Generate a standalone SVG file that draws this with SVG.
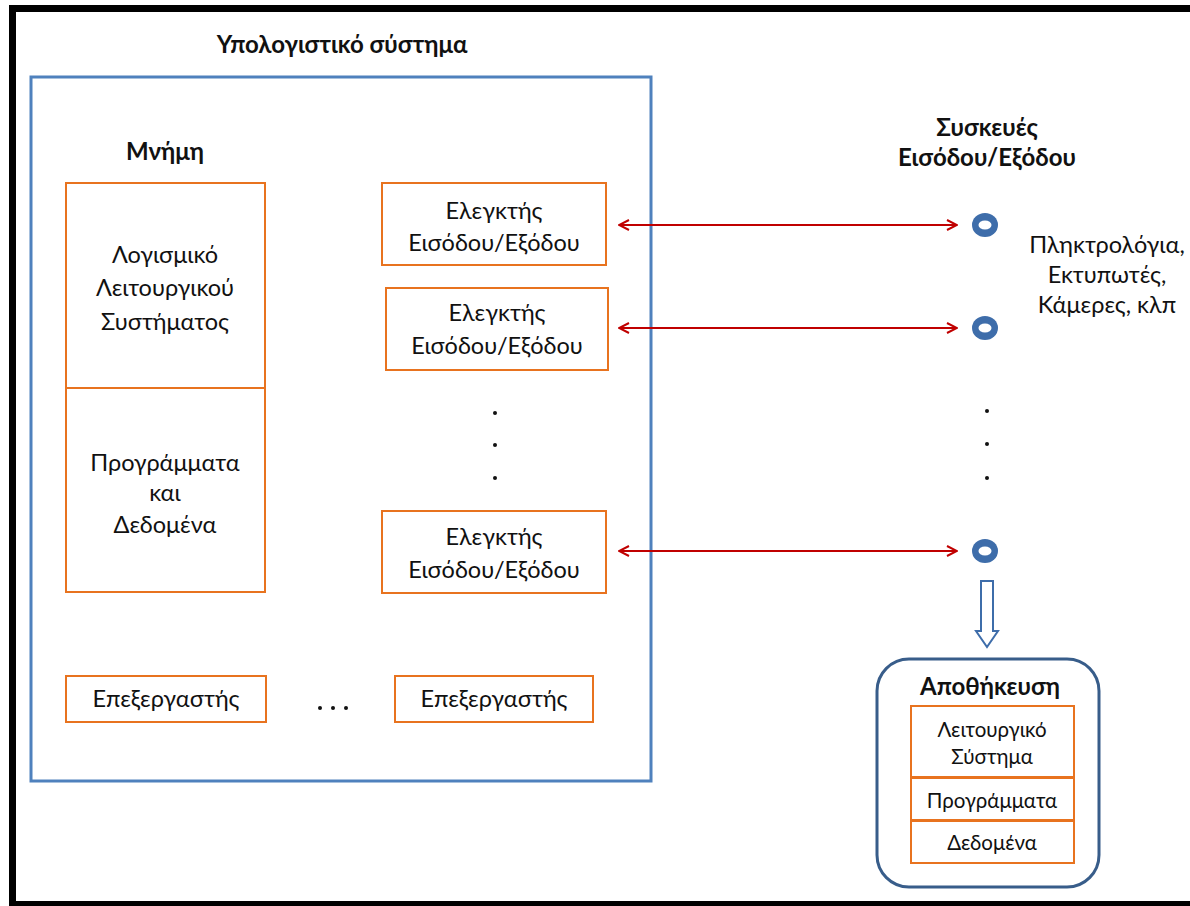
<svg xmlns="http://www.w3.org/2000/svg" width="1190" height="906" viewBox="0 0 1190 906">
<style>
text{font-family:Lato,"Open Sans","Liberation Sans",sans-serif;fill:#111;text-anchor:middle}
.t{font-size:23.5px}
.s{font-size:20.5px}
.b{font-weight:bold;font-size:24px}
.o{fill:#fff;stroke:#E8731F;stroke-width:2}
.dot{fill:#111}
.dev{fill:#3E6DAA}
</style>
<defs>
<marker id="ah" viewBox="0 0 12 12" refX="11" refY="6" markerWidth="12" markerHeight="12" markerUnits="userSpaceOnUse" orient="auto-start-reverse">
<path d="M1,1 L11,6 L1,11" fill="none" stroke="#C00000" stroke-width="2"/>
</marker>
</defs>
<rect width="1190" height="906" fill="#fff"/>
<g id="frame" fill="#000">
<rect x="9" y="5" width="1181" height="7"/>
<rect x="9" y="5" width="7" height="901"/>
<rect x="9" y="901" width="1181" height="5"/>
</g>
<g id="computer">
<rect x="31" y="77" width="620" height="704" fill="none" stroke="#4F81BD" stroke-width="3"/>
<text class="b" x="342" y="53">Υπολογιστικό σύστημα</text>
</g>
<g id="memory">
<text class="b" x="165" y="160">Μνήμη</text>
<rect class="o" x="66" y="183" width="199" height="205"/>
<rect class="o" x="66" y="388" width="199" height="204"/>
<text class="t" x="165" y="263">Λογισμικό</text>
<text class="t" x="165" y="296">Λειτουργικού</text>
<text class="t" x="165" y="330">Συστήματος</text>
<text class="t" x="165" y="471">Προγράμματα</text>
<text class="t" x="165" y="501">και</text>
<text class="t" x="165" y="533">Δεδομένα</text>
</g>
<g id="ctrl1">
<rect class="o" x="382" y="183" width="224" height="82"/>
<text class="t" x="494" y="219">Ελεγκτής</text>
<text class="t" x="494" y="251">Εισόδου/Εξόδου</text>
</g>
<g id="ctrl2">
<rect class="o" x="386" y="288" width="222" height="82"/>
<text class="t" x="497" y="321">Ελεγκτής</text>
<text class="t" x="497" y="354">Εισόδου/Εξόδου</text>
</g>
<g id="ctrl3">
<rect class="o" x="382" y="511" width="224" height="82"/>
<text class="t" x="494" y="545">Ελεγκτής</text>
<text class="t" x="494" y="578">Εισόδου/Εξόδου</text>
</g>
<g id="dots1">
<circle class="dot" cx="495" cy="413" r="2"/>
<circle class="dot" cx="495" cy="445" r="2"/>
<circle class="dot" cx="495" cy="478" r="2"/>
</g>
<g id="cpu1">
<rect class="o" x="66" y="676" width="200" height="46"/>
<text class="t" x="166" y="707">Επεξεργαστής</text>
</g>
<g id="ellipsis">
<circle class="dot" cx="320" cy="708" r="2"/>
<circle class="dot" cx="333" cy="708" r="2"/>
<circle class="dot" cx="346" cy="708" r="2"/>
</g>
<g id="cpu2">
<rect class="o" x="395" y="676" width="198" height="46"/>
<text class="t" x="494" y="707">Επεξεργαστής</text>
</g>
<g id="devtitle">
<text class="b" x="987" y="136">Συσκευές</text>
<text class="b" x="987" y="166">Εισόδου/Εξόδου</text>
</g>
<g id="dev1"><ellipse class="dev" cx="985" cy="225" rx="13" ry="12"/><ellipse cx="985" cy="225" rx="6.5" ry="4.5" fill="#fff"/></g>
<g id="dev2"><ellipse class="dev" cx="985" cy="328" rx="13" ry="12"/><ellipse cx="985" cy="328" rx="6.5" ry="4.5" fill="#fff"/></g>
<g id="dev3"><ellipse class="dev" cx="985" cy="551" rx="13" ry="12"/><ellipse cx="985" cy="551" rx="6.5" ry="4.5" fill="#fff"/></g>
<g id="devlabel">
<text class="t" x="1107" y="253">Πληκτρολόγια,</text>
<text class="t" x="1107" y="283">Εκτυπωτές,</text>
<text class="t" x="1107" y="313">Κάμερες, κλπ</text>
</g>
<g id="dots2">
<circle class="dot" cx="987" cy="411" r="2"/>
<circle class="dot" cx="987" cy="444" r="2"/>
<circle class="dot" cx="987" cy="478" r="2"/>
</g>
<g id="connectors" fill="none">
<line x1="619" y1="225" x2="957" y2="225" stroke="#C00000" stroke-width="2" marker-start="url(#ah)" marker-end="url(#ah)"/>
<line x1="619" y1="328" x2="957" y2="328" stroke="#C00000" stroke-width="2" marker-start="url(#ah)" marker-end="url(#ah)"/>
<line x1="619" y1="551" x2="957" y2="551" stroke="#C00000" stroke-width="2" marker-start="url(#ah)" marker-end="url(#ah)"/>
<path d="M981,581 H993 V631 H998 L987,647 L976,631 H981 Z" fill="#fff" stroke="#3E6DAA" stroke-width="2"/>
</g>
<g id="storage">
<rect x="877" y="659" width="222" height="228" rx="32" fill="#fff" stroke="#385D8A" stroke-width="3"/>
<text class="b" x="990" y="695">Αποθήκευση</text>
<rect class="o" x="911" y="706" width="163" height="71"/>
<rect class="o" x="911" y="778" width="163" height="42"/>
<rect class="o" x="911" y="821" width="163" height="42"/>
<text class="s" x="992" y="737">Λειτουργικό</text>
<text class="s" x="992" y="764">Σύστημα</text>
<text class="s" x="992" y="808">Προγράμματα</text>
<text class="s" x="992" y="850">Δεδομένα</text>
</g>
</svg>
